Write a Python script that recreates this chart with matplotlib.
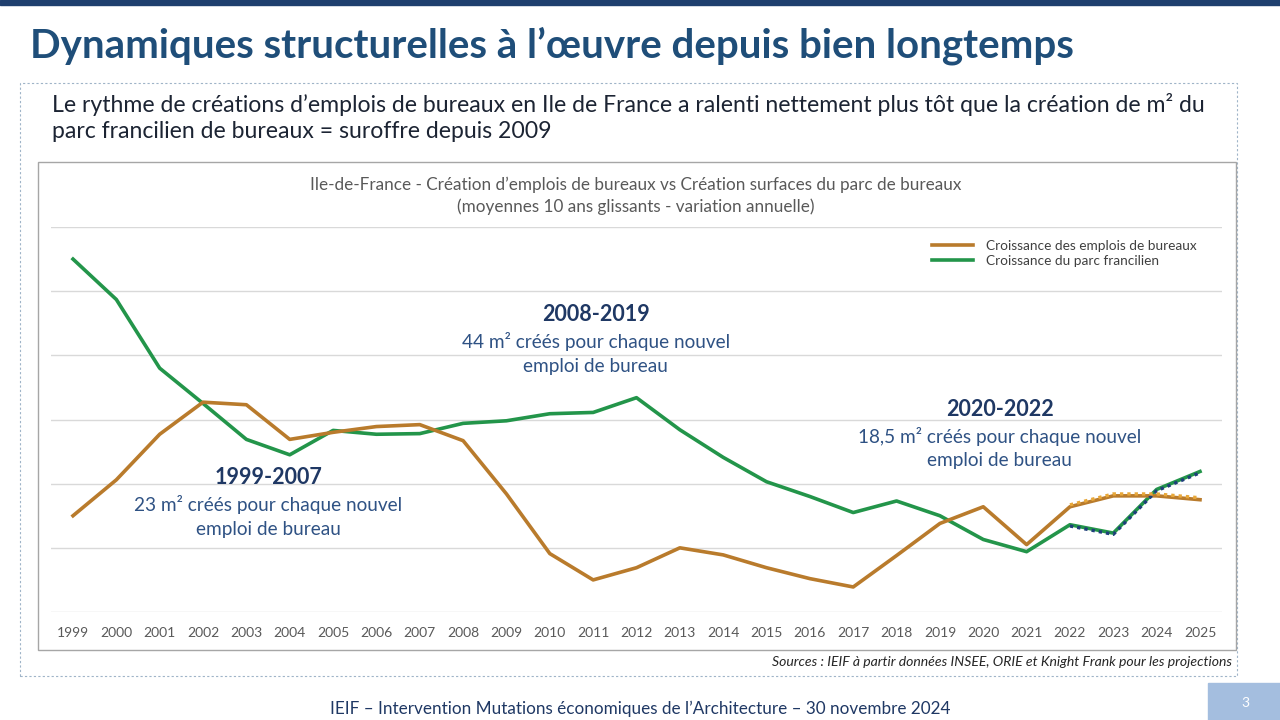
import matplotlib.pyplot as plt
from matplotlib.patches import Rectangle
from matplotlib.lines import Line2D

plt.rcParams['font.family'] = ['Lato', 'DejaVu Sans']

years = list(range(1999, 2026))
emplois = [1.50, 2.06, 2.77, 3.27, 3.23, 2.69, 2.80, 2.89, 2.92, 2.67,
           1.84, 0.91, 0.50, 0.69, 1.00, 0.89, 0.69, 0.52, 0.39, 0.88,
           1.38, 1.64, 1.05, 1.64, 1.81, 1.81, 1.75]
parc = [5.50, 4.87, 3.80, 3.25, 2.69, 2.45, 2.83, 2.77, 2.78, 2.94,
        2.98, 3.09, 3.11, 3.34, 2.84, 2.41, 2.03, 1.80, 1.55, 1.73,
        1.50, 1.13, 0.94, 1.36, 1.23, 1.91, 2.19]
proj_start = 2022

# (x centre, y of heading, heading, body lines)
annotations = [
    (2003.5, 2.09, "1999-2007", ["23 m² créés pour chaque nouvel", "emploi de bureau"]),
    (2011.06, 4.63, "2008-2019", ["44 m² créés pour chaque nouvel", "emploi de bureau"]),
    (2020.38, 3.16, "2020-2022", ["18,5 m² créés pour chaque nouvel", "emploi de bureau"]),
]

W, H = 1280, 720
fig = plt.figure(figsize=(12.8, 7.2), dpi=100)

def fx(x):
    return x / W

def fy(y):
    return 1 - y / H

# top band
fig.patches.append(Rectangle((0, fy(5)), 1, 5 / H, transform=fig.transFigure,
                             color='#1F3F6E', zorder=0))
fig.text(fx(30), fy(46), "Dynamiques structurelles à l’œuvre depuis bien longtemps",
         fontsize=29, fontweight='bold', color='#1F4E79', va='center', ha='left')

# dotted outer box
fig.patches.append(Rectangle((fx(20), fy(676)), fx(1217), (676 - 83) / H,
                             transform=fig.transFigure, fill=False,
                             edgecolor='#9fb4c8', linestyle=(0, (2, 2)), linewidth=0.8))
fig.text(fx(52), fy(104),
         "Le rythme de créations d’emplois de bureaux en Ile de France a ralenti nettement plus tôt que la création de m² du",
         fontsize=16.6, color='#1c2433', va='center', ha='left')
fig.text(fx(52), fy(132), "parc francilien de bureaux = suroffre depuis 2009",
         fontsize=16.6, color='#1c2433', va='center', ha='left')

# chart frame
fig.patches.append(Rectangle((fx(38), fy(650)), fx(1198), (650 - 162) / H,
                             transform=fig.transFigure, fill=False,
                             edgecolor='#a6a6a6', linewidth=1.0))
fig.text(fx(636), fy(185),
         "Ile-de-France - Création d’emplois de bureaux vs Création surfaces du parc de bureaux",
         fontsize=12.3, color='#595959', ha='center', va='center')
fig.text(fx(636), fy(207), "(moyennes 10 ans glissants - variation annuelle)",
         fontsize=12.3, color='#595959', ha='center', va='center')

x0 = 73 - 0.5 * 43.35
x1 = 1200 + 0.5 * 43.35
ax = fig.add_axes([fx(x0), fy(612), fx(x1 - x0), (612 - 227) / H])
ax.set_xlim(1998.5, 2025.5)
ax.set_ylim(0, 6)
for s in ax.spines.values():
    s.set_visible(False)
ax.set_yticks(range(0, 7))
ax.set_yticklabels([])
ax.grid(axis='y', color='#d9d9d9', linewidth=1.0)
ax.set_axisbelow(True)
ax.tick_params(axis='y', length=0)
ax.set_xticks(years)
ax.set_xticklabels([str(y) for y in years], fontsize=10, color='#595959')
ax.tick_params(axis='x', length=0, pad=11)

orange = '#B97B2C'
green = '#23954A'
ax.plot(years, parc, color=green, linewidth=2.6, solid_joinstyle='round')
ax.plot(years, emplois, color=orange, linewidth=2.6, solid_joinstyle='round')

i0 = years.index(proj_start)
ax.plot(years[i0:], [v - 0.02 for v in parc[i0:]], color='#1F3F7A', linewidth=2.4,
        linestyle=(0, (1, 1.2)))
ax.plot(years[i0:], [v + 0.03 for v in emplois[i0:]], color='#E8A83A',
        linewidth=2.4, linestyle=(0, (1, 1.2)))

for xc, yc, head, body in annotations:
    ax.text(xc, yc, head, fontsize=15.5, fontweight='bold', color='#1F3864',
            ha='center', va='center')
    ax.text(xc, yc - 27 / 64, body[0], fontsize=13.7, color='#2F5284',
            ha='center', va='center')
    ax.text(xc, yc - 51 / 64, body[1], fontsize=13.7, color='#2F5284',
            ha='center', va='center')

handles = [Line2D([], [], color=orange, linewidth=2.6),
           Line2D([], [], color=green, linewidth=2.6)]
fig.legend(handles, ["Croissance des emplois de bureaux", "Croissance du parc francilien"],
           loc='upper left', bbox_to_anchor=(fx(932), fy(240)), frameon=False,
           fontsize=9.8, labelcolor='#404040', handlelength=3.0, handletextpad=1.0,
           labelspacing=0.2, borderpad=0, borderaxespad=0)

fig.text(fx(1232), fy(662),
         "Sources : IEIF à partir données INSEE, ORIE et Knight Frank pour les projections",
         fontsize=10.1, style='italic', color='#262626', ha='right', va='center')

fig.text(fx(640), fy(709),
         "IEIF – Intervention Mutations économiques de l’Architecture – 30 novembre 2024",
         fontsize=12.3, color='#1F3864', ha='center', va='center')
fig.patches.append(Rectangle((fx(1208), 0), fx(72), 37 / H, transform=fig.transFigure,
                             color='#A4BEDF', zorder=0))
fig.text(fx(1245), fy(703), "3", fontsize=10, color='white', ha='center', va='center')

fig.savefig('out.png', dpi=100)
